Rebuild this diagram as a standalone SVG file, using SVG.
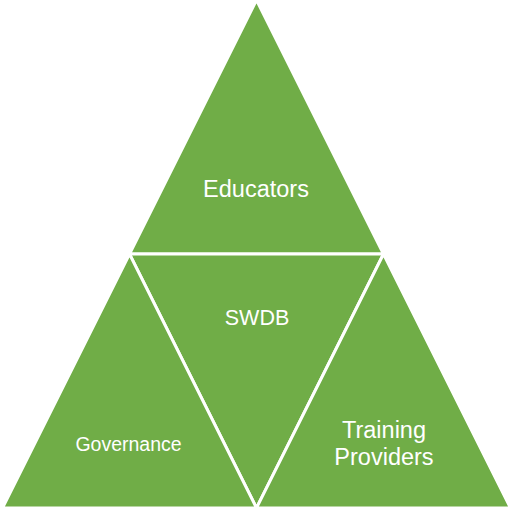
<svg xmlns="http://www.w3.org/2000/svg" width="511" height="508" viewBox="0 0 511 508">
<style>
.tri{fill:#70AD47;stroke:#FFFFFF;stroke-width:3;stroke-linejoin:miter}
.lbl{fill:#FFFFFF;font-family:"Liberation Sans",Arial,sans-serif;text-anchor:middle}
</style>
<rect width="511" height="508" fill="#FFFFFF"/>
<g id="educators">
<polygon class="tri" points="256.5,0 129.5,254 383.5,254"/>
<text class="lbl" x="256" y="197" font-size="23.5">Educators</text>
</g>
<g id="swdb">
<polygon class="tri" points="129.5,254 383.5,254 256.5,508"/>
<text class="lbl" x="257" y="325" font-size="21.5">SWDB</text>
</g>
<g id="governance">
<polygon class="tri" points="129.5,254 2.5,508 256.5,508"/>
<text class="lbl" x="128.5" y="451" font-size="19.5">Governance</text>
</g>
<g id="training-providers">
<polygon class="tri" points="383.5,254 256.5,508 510.5,508"/>
<text class="lbl" x="384" y="438" font-size="23.5">Training</text>
<text class="lbl" x="384" y="465" font-size="23.5">Providers</text>
</g>
<g id="connectors"></g>
</svg>
